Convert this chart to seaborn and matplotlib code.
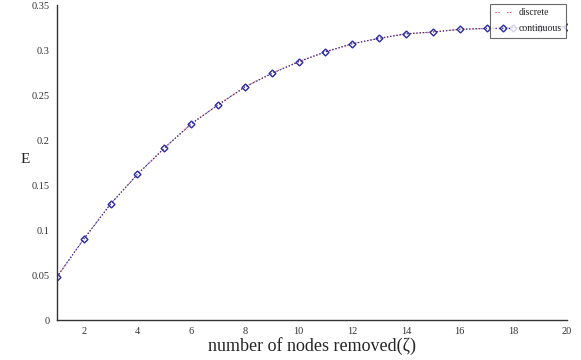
import matplotlib
matplotlib.use("Agg")
import matplotlib.pyplot as plt
import seaborn as sns
import pandas as pd

nodes_removed = [1, 2, 3, 4, 5, 6, 7, 8, 9, 10, 11, 12, 13, 14, 15, 16, 17, 18, 19, 20]
e_discrete = [0.048, 0.090, 0.129, 0.162, 0.191, 0.218, 0.239, 0.259, 0.274, 0.287,
              0.298, 0.307, 0.313, 0.318, 0.320, 0.323, 0.324, 0.325, 0.325, 0.326]
e_continuous = [0.048, 0.090, 0.129, 0.162, 0.191, 0.218, 0.239, 0.259, 0.274, 0.287,
                0.298, 0.307, 0.313, 0.318, 0.320, 0.323, 0.324, 0.325, 0.325, 0.326]
x_ticks = [2, 4, 6, 8, 10, 12, 14, 16, 18, 20]
y_ticks = [0, 0.05, 0.1, 0.15, 0.2, 0.25, 0.3, 0.35]
y_tick_labels = ["0", "0.05", "0.1", "0.15", "0.2", "0.25", "0.3", "0.35"]

sns.set_style("white")
plt.rcParams['font.family'] = ['Liberation Serif', 'DejaVu Serif']

df = pd.DataFrame({"x": nodes_removed, "discrete": e_discrete, "continuous": e_continuous})

fig = plt.figure(figsize=(5.81, 3.6), dpi=100)
ax = fig.add_axes([0.098, 0.111, 0.878, 0.875])

sns.lineplot(data=df, x="x", y="discrete", ax=ax, color="#cc3344", linestyle=":",
             linewidth=0.8, marker="+", markersize=4, markeredgewidth=0.8,
             label="discrete")
sns.lineplot(data=df, x="x", y="continuous", ax=ax, color="#2b2b9e", linestyle=":",
             linewidth=0.9, marker="D", markersize=3.5, markerfacecolor="none",
             markeredgecolor="#2b2b9e", markeredgewidth=1.0, label="continuous")

ax.set_xlim(1, 20)
ax.set_ylim(0, 0.35)
ax.set_xticks(x_ticks)
ax.set_xticklabels([str(t) for t in x_ticks], fontsize=7.5)
ax.set_yticks(y_ticks)
ax.set_yticklabels(y_tick_labels, fontsize=7.5)
ax.tick_params(direction="in", length=3, width=0.6, colors="#333333", pad=5)

for s in ["top", "right"]:
    ax.spines[s].set_visible(False)
for s in ["left", "bottom"]:
    ax.spines[s].set_color("#333333")
    ax.spines[s].set_linewidth(1.0)

ax.set_xlabel("number of nodes removed(ζ)", fontsize=13, labelpad=1)
ax.set_ylabel("E", fontsize=11, rotation=0)
ax.yaxis.set_label_coords(-0.062, 0.49)

leg = ax.legend(loc="upper right", fontsize=7, handlelength=1.6, frameon=True,
                fancybox=False, borderpad=0.5, labelspacing=0.7,
                bbox_to_anchor=(1.008, 1.02))
leg.get_frame().set_edgecolor("#444444")
leg.get_frame().set_linewidth(0.8)

fig.savefig("out.png", dpi=100)
